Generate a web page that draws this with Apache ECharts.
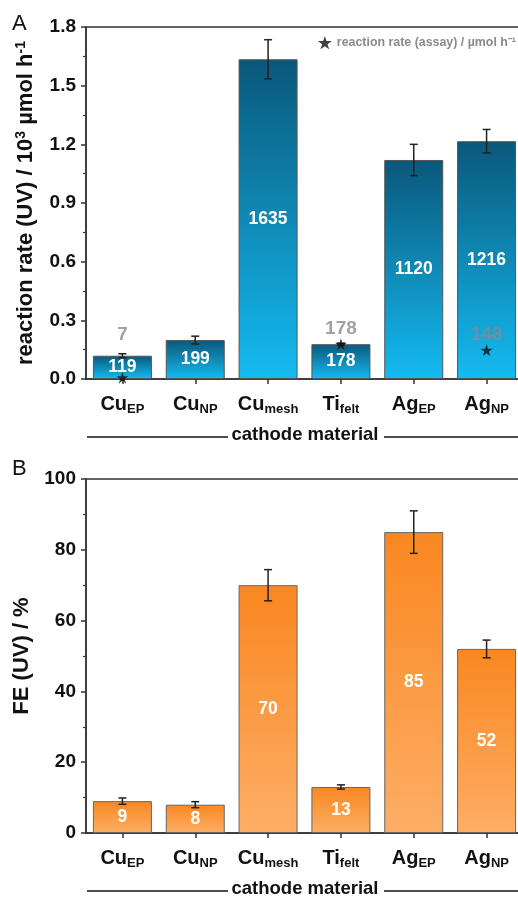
<!DOCTYPE html>
<html>
<head>
<meta charset="utf-8">
<script src="https://cdn.jsdelivr.net/npm/echarts@6/dist/echarts.min.js"></script>
<style>
  html, body { margin: 0; padding: 0; background: #fff; }
  #chart { width: 518px; height: 899px; }
</style>
</head>
<body>
<div id="chart"></div>
<script>
// cathode materials (base + subscript)
const materials = ['Cu', 'Cu', 'Cu', 'Ti', 'Ag', 'Ag']
const subscripts = ['EP', 'NP', 'mesh', 'felt', 'EP', 'NP']

// A: reaction rate (UV) in µmol h-1, plotted in 10^3 µmol h-1
const rateUV = [119, 199, 1635, 178, 1120, 1216]
const rateErr = [10, 20, 100, 5, 80, 60]
// reaction rate (assay) in µmol h-1 (stars)
const rateAssay = [7, null, null, 178, null, 148]

// B: faradaic efficiency (UV) in %
const feUV = [9, 8, 70, 13, 85, 52]
const feErr = [0.9, 0.85, 4.4, 0.6, 6, 2.5]

const rateTicks = [0, 0.3, 0.6, 0.9, 1.2, 1.5, 1.8]
const feTicks = [0, 20, 40, 60, 80, 100]

const FONT = 'Arial, "Liberation Sans", sans-serif'
const STAR = 'path://M50,0 L61.2,34.5 L97.6,34.5 L68.2,55.9 L79.4,90.5 L50,69.1 L20.6,90.5 L31.8,55.9 L2.4,34.5 L38.8,34.5 Z'

const categories = materials.map((m, i) => `{b|${m}}{s|${subscripts[i]}}`)

const chart = echarts.init(document.getElementById('chart'))

const grad = (top, bottom) => new echarts.graphic.LinearGradient(0, 0, 0, 1, [
  { offset: 0, color: top },
  { offset: 1, color: bottom },
])

const xAxisBase = (gridIndex) => ({
  type: 'category',
  gridIndex,
  data: categories,
  axisLine: { lineStyle: { color: '#333', width: 1.5 } },
  axisTick: { show: true, alignWithLabel: true, length: 5, lineStyle: { color: '#333', width: 1.5 } },
  axisLabel: {
    interval: 0,
    margin: 13,
    color: '#111',
    rich: {
      b: { fontSize: 20, fontWeight: 'bold', fontFamily: FONT, color: '#111' },
      s: { fontSize: 13, fontWeight: 'bold', fontFamily: FONT, color: '#111', padding: [11, 0, 0, 0] },
    },
  },
})

const yAxisBase = (gridIndex, max, interval, name, fmt, gap) => ({
  type: 'value',
  gridIndex,
  min: 0,
  max,
  interval,
  name,
  nameLocation: 'middle',
  nameGap: gap,
  nameTextStyle: { fontSize: 22, fontWeight: 'bold', fontFamily: FONT, color: '#111', rich: {
    sup: { fontSize: 14, fontWeight: 'bold', fontFamily: FONT, color: '#111', padding: [0, 0, 10, 0] },
  } },
  axisLine: { show: true, lineStyle: { color: '#333', width: 1.5 } },
  axisTick: { show: true, length: 5, lineStyle: { color: '#333', width: 1.5 } },
  minorTick: { show: true, splitNumber: 2, length: 3, lineStyle: { color: '#333', width: 1.2 } },
  splitLine: { show: false },
  axisLabel: { margin: 10, fontSize: 19, fontWeight: 'bold', fontFamily: FONT, color: '#111', formatter: fmt },
})

const errorBars = (xIdx, yIdx, values, errs) => ({
  type: 'custom',
  xAxisIndex: xIdx,
  yAxisIndex: yIdx,
  z: 5,
  data: values.map((v, i) => [i, v, errs[i]]),
  renderItem: (params, api) => {
    const i = api.value(0), v = api.value(1), e = api.value(2)
    const top = api.coord([i, v + e])
    const bot = api.coord([i, v - e])
    const style = { stroke: '#222', lineWidth: 1.5 }
    return {
      type: 'group',
      children: [
        { type: 'line', shape: { x1: top[0], y1: top[1], x2: bot[0], y2: bot[1] }, style },
        { type: 'line', shape: { x1: top[0] - 4, y1: top[1], x2: top[0] + 4, y2: top[1] }, style },
        { type: 'line', shape: { x1: bot[0] - 4, y1: bot[1], x2: bot[0] + 4, y2: bot[1] }, style },
      ],
    }
  },
})

const barLabel = {
  show: true,
  position: 'inside',
  color: '#fff',
  fontSize: 17.5,
  fontWeight: 'bold',
  fontFamily: FONT,
}

const gridBase = {
  left: 86, width: 437, show: true, borderColor: '#333', borderWidth: 1.5,
  backgroundColor: 'transparent', outerBoundsMode: 'none', containLabel: false,
}

const option = {
  backgroundColor: '#fff',
  animation: false,
  textStyle: { fontFamily: FONT },
  grid: [
    { ...gridBase, top: 27, height: 352 },
    { ...gridBase, top: 479, height: 354 },
  ],
  legend: {
    data: [{ name: 'rate (assay)', icon: STAR }],
    right: -3,
    top: 31,
    itemWidth: 14,
    itemHeight: 14,
    itemGap: 4,
    formatter: () => 'reaction rate (assay) / µmol h⁻¹',
    textStyle: { color: '#8a8a8a', fontSize: 12.4, fontWeight: 'bold', fontFamily: FONT },
  },
  xAxis: [xAxisBase(0), xAxisBase(1)],
  yAxis: [
    yAxisBase(0, rateTicks[rateTicks.length - 1], rateTicks[1] - rateTicks[0],
      'reaction rate (UV) / 10{sup|3} µmol h{sup|-1}', (v) => v.toFixed(1), 48),
    yAxisBase(1, feTicks[feTicks.length - 1], feTicks[1] - feTicks[0], 'FE (UV) / %', (v) => String(v), 51),
  ],
  series: [
    {
      name: 'rate (UV)',
      type: 'bar',
      xAxisIndex: 0,
      yAxisIndex: 0,
      barWidth: '81%',
      data: rateUV.map((v) => v / 1000),
      itemStyle: { color: grad('#0a587a', '#14bbf2'), borderColor: '#555', borderWidth: 1 },
      label: { ...barLabel, formatter: (p) => String(rateUV[p.dataIndex]) },
    },
    errorBars(0, 0, rateUV.map((v) => v / 1000), rateErr.map((e) => e / 1000)),
    {
      name: 'rate (assay)',
      type: 'scatter',
      xAxisIndex: 0,
      yAxisIndex: 0,
      z: 6,
      symbol: STAR,
      symbolSize: 12,
      itemStyle: { color: '#111' },
      data: rateAssay.map((v, i) => v === null ? null : {
        value: [i, v / 1000],
        label: i === 0 ? { distance: 27 } : undefined,
      }),
      label: {
        show: true,
        position: 'top',
        distance: 0,
        color: '#8a8a8a',
        fontSize: 19,
        fontWeight: 'bold',
        fontFamily: FONT,
        formatter: (p) => String(rateAssay[p.dataIndex]),
      },
    },
    {
      name: 'FE (UV)',
      type: 'bar',
      xAxisIndex: 1,
      yAxisIndex: 1,
      barWidth: '81%',
      data: feUV,
      itemStyle: { color: grad('#fa8720', '#fdae66'), borderColor: '#666', borderWidth: 1 },
      label: barLabel,
    },
    errorBars(1, 1, feUV, feErr),
  ],
  graphic: [
    { type: 'text', left: 12, top: 13, style: { text: 'A', fontSize: 22, fontFamily: FONT, fill: '#111' } },
    { type: 'text', left: 12, top: 458, style: { text: 'B', fontSize: 22, fontFamily: FONT, fill: '#111' } },
    { type: 'line', shape: { x1: 87, y1: 437, x2: 228, y2: 437 }, style: { stroke: '#111', lineWidth: 1.3 } },
    { type: 'line', shape: { x1: 384, y1: 437, x2: 518, y2: 437 }, style: { stroke: '#111', lineWidth: 1.3 } },
    { type: 'text', x: 305, y: 435, style: { text: 'cathode material', fontSize: 18.5, fontWeight: 'bold', fontFamily: FONT, fill: '#111', align: 'center', verticalAlign: 'middle' } },
    { type: 'line', shape: { x1: 87, y1: 891, x2: 228, y2: 891 }, style: { stroke: '#111', lineWidth: 1.3 } },
    { type: 'line', shape: { x1: 384, y1: 891, x2: 518, y2: 891 }, style: { stroke: '#111', lineWidth: 1.3 } },
    { type: 'text', x: 305, y: 889, style: { text: 'cathode material', fontSize: 18.5, fontWeight: 'bold', fontFamily: FONT, fill: '#111', align: 'center', verticalAlign: 'middle' } },
  ],
}

chart.setOption(option)
window.addEventListener('resize', () => chart.resize())
</script>
</body>
</html>
